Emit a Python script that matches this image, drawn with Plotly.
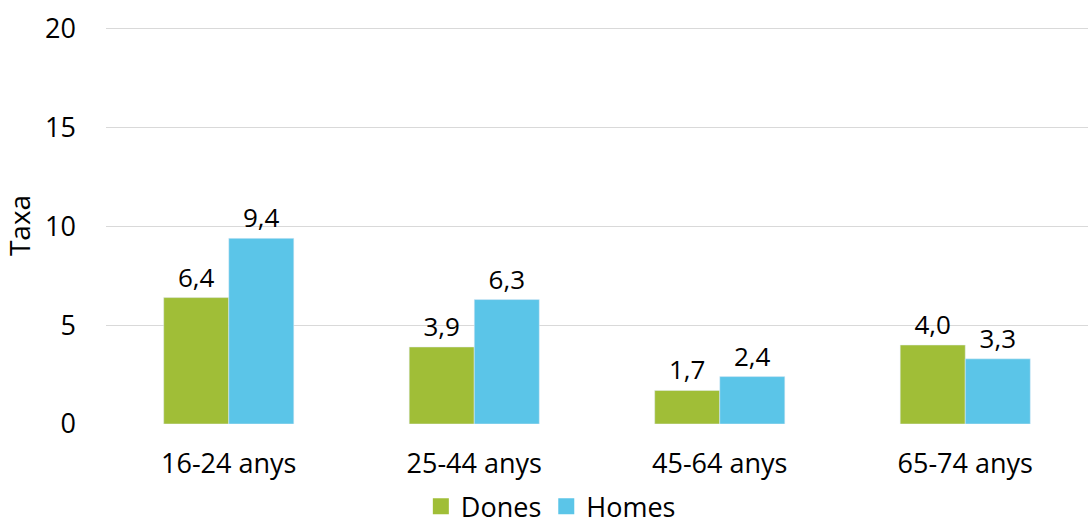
import plotly.graph_objects as go

categories = ["16-24 anys", "25-44 anys", "45-64 anys", "65-74 anys"]
dones = [6.4, 3.9, 1.7, 4.0]
homes = [9.4, 6.3, 2.4, 3.3]
series_names = ["Dones", "Homes"]
series_colors = ["#A0BE37", "#5BC5E8"]
y_ticks = [0, 5, 10, 15, 20]

def fmt(v):
    return f"{v:.1f}".replace(".", ",")

font_family = "Open Sans, Noto Sans, sans-serif"
fig = go.Figure()
for name, vals, col in zip(series_names, [dones, homes], series_colors):
    fig.add_trace(go.Bar(name=name, x=categories, y=vals, marker_color=col,
                         text=[fmt(v) for v in vals], textposition="outside",
                         textfont=dict(size=26, color="#000000"), cliponaxis=False,
                         showlegend=False))
for name, col in zip(series_names, series_colors):
    fig.add_trace(go.Scatter(name=name, x=[None], y=[None], mode="markers",
                             marker=dict(symbol="square", size=17, color=col),
                             showlegend=True))

fig.update_layout(
    width=1088, height=525,
    margin=dict(l=106, r=0, t=27, b=101, autoexpand=False),
    barmode="group", bargap=0.47, bargroupgap=0,
    plot_bgcolor="white", paper_bgcolor="white",
    font=dict(family=font_family, size=27, color="#000000"),
    legend=dict(orientation="h", x=0.453, xanchor="center", y=-0.208, yanchor="middle",
                font=dict(size=27), itemwidth=30, traceorder="normal"),
    showlegend=True,
)
fig.update_yaxes(range=[0, 20.1], tickvals=y_ticks, showgrid=True, gridcolor="#d9d9d9",
                 gridwidth=1, zeroline=False, showline=False, ticklabelstandoff=29,
                 automargin=False,
                 title=dict(text="Taxa", font=dict(size=28), standoff=14))
fig.update_xaxes(showline=False, ticklabelstandoff=21, tickfont=dict(size=27), automargin=False)

fig.write_html("out.html", config={"displayModeBar": False},
               post_script="document.body.style.margin='0';")
